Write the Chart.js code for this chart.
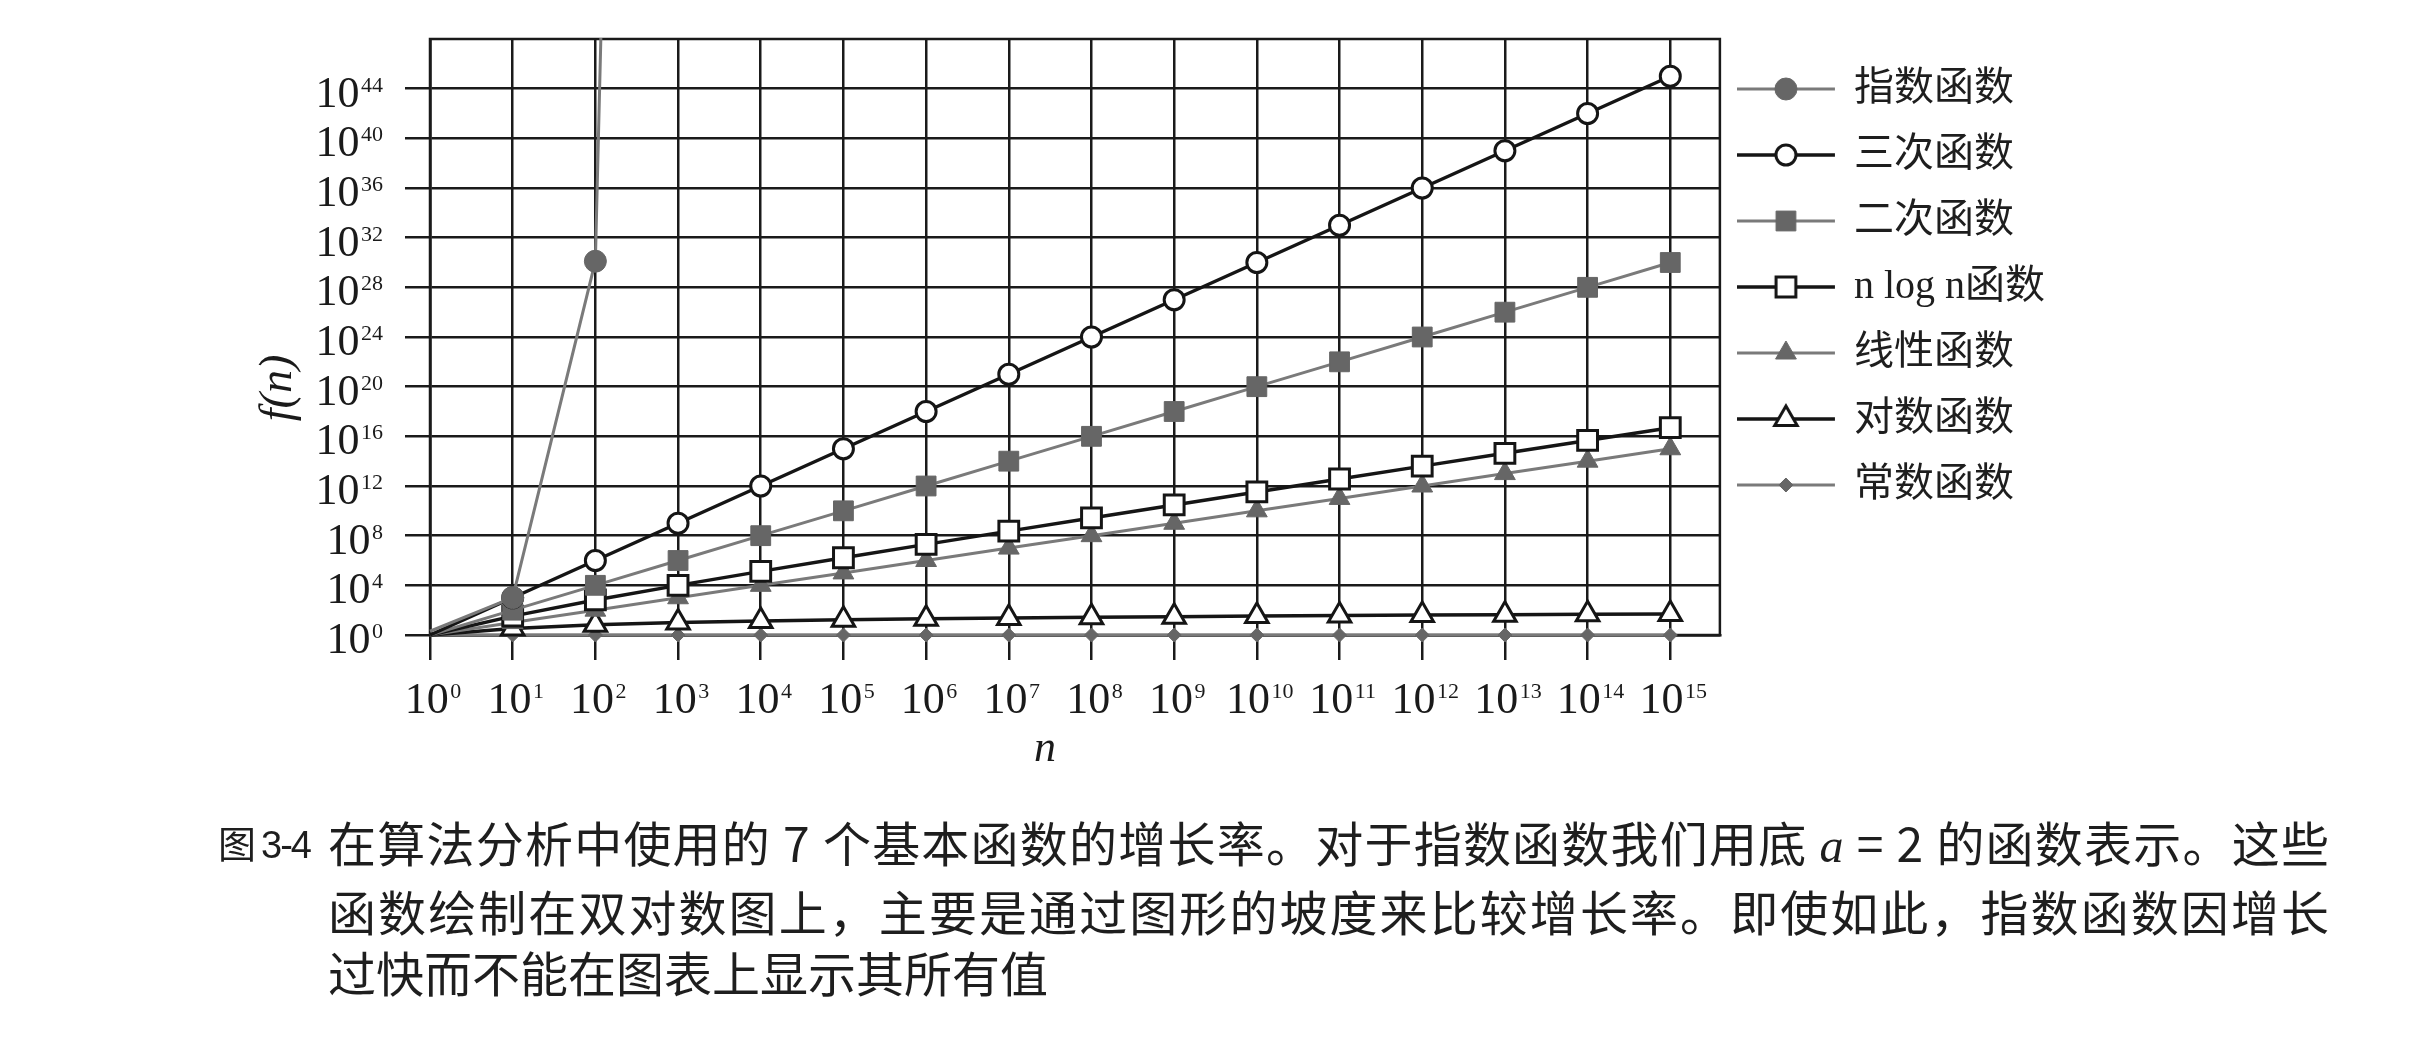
<!DOCTYPE html>
<html><head><meta charset="utf-8">
<script src="https://cdn.jsdelivr.net/npm/chart.js@4.4.1/dist/chart.umd.min.js"></script>
<style>
html,body{margin:0;padding:0;background:#fff;}
#wrap{position:relative;width:2415px;height:1058px;overflow:hidden;background:#fff;}
#c{position:absolute;left:0;top:0;}
.cap{position:absolute;font-family:"Noto Sans CJK SC";font-size:48px;color:#1e1e1e;white-space:nowrap;line-height:1;}
.cap i{font-family:"Liberation Serif";font-style:italic;}
#fig{font-size:38px;}
#fig span{font-family:"Liberation Sans",sans-serif;margin-left:5px;letter-spacing:-2px;}
</style></head><body>
<div id="wrap">
<canvas id="c" width="2415" height="1058"></canvas>
<div class="cap" id="fig" style="left:218px;top:823px">图<span>3-4</span></div>
<div class="cap line" data-w="2001" style="left:328px;top:817px">在算法分析中使用的 7 个基本函数的增长率。对于指数函数我们用底 <i>a</i> = 2 的函数表示。这些</div>
<div class="cap line" data-w="2001" style="left:328px;top:886px">函数绘制在双对数图上，主要是通过图形的坡度来比较增长率。即使如此，指数函数因增长</div>
<div class="cap" style="left:328px;top:947px">过快而不能在图表上显示其所有值</div>
</div>
<script>
// ---- data ----
const nExponents = [0,1,2,3,4,5,6,7,8,9,10,11,12,13,14,15];
const nValues = [1,1e1,1e2,1e3,1e4,1e5,1e6,1e7,1e8,1e9,1e10,1e11,1e12,1e13,1e14,1e15];
const yTickExponents = [0,4,8,12,16,20,24,28,32,36,40,44];
const xTitle = 'n';
const yTitle = 'f(n)';
const seriesNames = ['指数函数','三次函数','二次函数','n log n函数','线性函数','对数函数','常数函数'];
const exponential = [2,1024,1.27e30,1.07e301,null,null,null,null,null,null,null,null,null,null,null,null];
const cubic = [1,1e3,1e6,1e9,1e12,1e15,1e18,1e21,1e24,1e27,1e30,1e33,1e36,1e39,1e42,1e45];
const quadratic = [1,1e2,1e4,1e6,1e8,1e10,1e12,1e14,1e16,1e18,1e20,1e22,1e24,1e26,1e28,1e30];
const nLogN = [1,3.32e1,6.64e2,9.97e3,1.33e5,1.66e6,1.99e7,2.33e8,2.66e9,2.99e10,3.32e11,3.65e12,3.99e13,4.32e14,4.65e15,4.98e16];
const linear = [1,1e1,1e2,1e3,1e4,1e5,1e6,1e7,1e8,1e9,1e10,1e11,1e12,1e13,1e14,1e15];
const logarithmic = [1,3.32,6.64,9.97,13.3,16.6,19.9,23.3,26.6,29.9,33.2,36.5,39.9,43.2,46.5,49.8];
const constant = [1,1,1,1,1,1,1,1,1,1,1,1,1,1,1,1];
const allSeries = [exponential,cubic,quadratic,nLogN,linear,logarithmic,constant];

// ---- styles ----
const GRAY = '#7a7a7a', BLACK = '#151515', INK = '#1a1a1a';
const styles = [
  {color:GRAY, width:3, point:'circle', r:11, fill:'#666666', border:'#666666', bw:1},
  {color:BLACK, width:3.5, point:'circle', r:10, fill:'#ffffff', border:BLACK, bw:3},
  {color:GRAY, width:3, point:'rect', r:14, fill:'#666666', border:'#666666', bw:1},
  {color:BLACK, width:3.5, point:'rect', r:14, fill:'#ffffff', border:BLACK, bw:3},
  {color:GRAY, width:3, point:'triangle', r:12, fill:'#666666', border:'#666666', bw:1},
  {color:BLACK, width:3.5, point:'triangle', r:13, fill:'#ffffff', border:BLACK, bw:3},
  {color:GRAY, width:3, point:'rectRot', r:7, fill:'#666666', border:'#666666', bw:1}
];
const serif = "'Liberation Serif','DejaVu Serif',serif";

function drawMarker(g, st, x, y){
  g.fillStyle = st.fill; g.strokeStyle = st.border; g.lineWidth = st.bw;
  Chart.helpers.drawPoint(g, {pointStyle: st.point, radius: st.r, borderWidth: st.bw, rotation: 0}, x, y);
}
function makeSample(st){
  const W = 106, H = 40;
  const c = document.createElement('canvas'); c.width = W; c.height = H;
  const g = c.getContext('2d');
  g.strokeStyle = st.color; g.lineWidth = st.width;
  g.beginPath(); g.moveTo(0, H/2); g.lineTo(98, H/2); g.stroke();
  drawMarker(g, st, 49, H/2);
  return c;
}
const legendSamples = styles.map(makeSample);

const datasets = allSeries.map((s, k) => ({
  label: seriesNames[k],
  data: nValues.map((x, i) => ({x: x, y: s[i]})),
  borderColor: styles[k].color,
  borderWidth: styles[k].width,
  pointStyle: styles[k].point,
  pointRadius: ctx => ctx.dataIndex === 0 ? 0 : styles[k].r,
  pointBackgroundColor: styles[k].fill,
  pointBorderColor: styles[k].border,
  pointBorderWidth: styles[k].bw,
  clip: {left: 15, right: 15, bottom: 15, top: 1},
  fill: false, tension: 0, spanGaps: false
}));

// "10" with a raised exponent
function drawPow(g, e, x, baseY, align){
  const big = '44px ' + serif, small = '22px ' + serif;
  const es = String(e);
  g.font = big; const w1 = g.measureText('10').width;
  g.font = small; const w2 = g.measureText(es).width;
  const gap = 1.5, total = w1 + gap + w2;
  const left = align === 'right' ? x - total : x - total / 2;
  g.textAlign = 'left'; g.textBaseline = 'alphabetic';
  g.font = big; g.fillText('10', left, baseY);
  g.font = small; g.fillText(es, left + w1 + gap, baseY - 15);
}

const framePlugin = {
  id: 'frame',
  beforeDatasetsDraw(chart){
    const a = chart.chartArea, g = chart.ctx;
    g.save(); g.strokeStyle = INK; g.lineWidth = 2.5;
    g.strokeRect(a.left, a.top, a.right - a.left, a.bottom - a.top);
    g.restore();
  }
};
const axisTextPlugin = {
  id: 'axisText',
  afterDraw(chart){
    const g = chart.ctx, a = chart.chartArea, xs = chart.scales.x, ys = chart.scales.y;
    g.save(); g.fillStyle = INK;
    yTickExponents.forEach(e => drawPow(g, e, a.left - 47, ys.getPixelForValue(Math.pow(10, e)) + 18, 'right'));
    nExponents.forEach(e => drawPow(g, e, xs.getPixelForValue(Math.pow(10, e)) + 3, a.bottom + 78, 'center'));
    g.font = 'italic 44px ' + serif; g.textAlign = 'center'; g.textBaseline = 'alphabetic';
    g.fillText(xTitle, a.left + 615, a.bottom + 126);
    g.translate(a.left - 151, (a.top + a.bottom) / 2 + 51);
    g.rotate(-Math.PI / 2);
    g.font = 'italic 46px ' + serif; g.textBaseline = 'middle';
    g.fillText(yTitle, 0, 0);
    g.restore();
  }
};

new Chart(document.getElementById('c'), {
  type: 'line',
  data: { datasets: datasets },
  plugins: [framePlugin, axisTextPlugin],
  options: {
    responsive: false, animation: false, devicePixelRatio: 1,
    layout: { padding: { left: 405, top: 39, right: 360, bottom: 398 } },
    plugins: {
      tooltip: { enabled: false },
      legend: {
        display: true, position: 'right', align: 'start',
        title: { display: true, text: '', padding: 0, font: { size: 4, lineHeight: 1 } },
        labels: {
          usePointStyle: true, pointStyleWidth: 88, padding: 26, color: '#1e1e1e',
          font: { family: "'Liberation Serif','Noto Sans CJK SC'", size: 40 },
          generateLabels: chart => chart.data.datasets.map((ds, i) => ({
            text: ds.label, pointStyle: legendSamples[i], datasetIndex: i, hidden: false,
            lineWidth: 0, strokeStyle: 'rgba(0,0,0,0)', fillStyle: 'rgba(0,0,0,0)', fontColor: '#1e1e1e'
          }))
        }
      }
    },
    scales: {
      x: {
        type: 'logarithmic', min: 1, max: 3.98e15,
        afterBuildTicks: s => { s.ticks = nExponents.map(e => ({ value: Math.pow(10, e) })); },
        ticks: { display: false, autoSkip: false },
        grid: { color: INK, lineWidth: 2.5, tickLength: 25, drawTicks: true },
        border: { display: true, color: INK, width: 2.5 },
        title: { display: false }
      },
      y: {
        type: 'logarithmic', min: 1, max: 1e48,
        afterBuildTicks: s => { s.ticks = yTickExponents.map(e => ({ value: Math.pow(10, e) })); },
        ticks: { display: false, autoSkip: false },
        grid: { color: INK, lineWidth: 2.5, tickLength: 25, drawTicks: true },
        border: { display: true, color: INK, width: 2.5 },
        title: { display: false }
      }
    }
  }
});

// justify the full caption lines to their block width
document.querySelectorAll('.cap.line').forEach(el => {
  const target = +el.dataset.w;
  const natural = el.getBoundingClientRect().width;
  const n = el.textContent.length;
  el.style.letterSpacing = ((target - natural) / (n - 1)) + 'px';
});
</script>
</body></html>
